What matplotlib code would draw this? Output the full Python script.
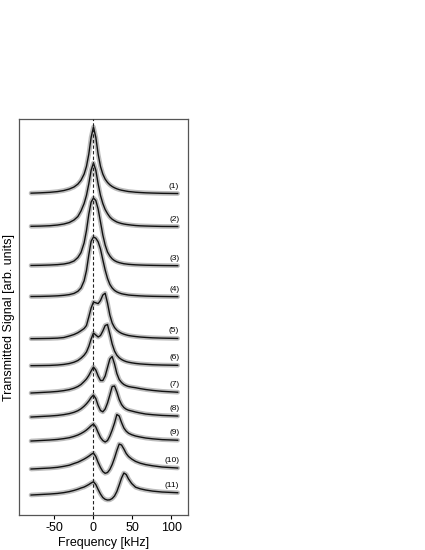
import numpy as np
import matplotlib.pyplot as plt

plt.rcParams['font.family'] = ['Liberation Sans', 'DejaVu Sans']
plt.rcParams['axes.unicode_minus'] = False

# frequency grid (kHz)
freq = [-80, -68, -56, -46, -38, -31, -25, -20, -16,
        -12, -9, -6, -3, 0, 3, 6, 9, 12, 15, 18, 21, 24, 27, 30, 33, 36, 39, 42, 45,
        49, 54, 60, 67, 76, 88, 108]

# signal above each trace's own baseline (arb. units)
trace_1 = [0.85, 1.2, 1.7, 2.45, 3.5, 5.0, 7.0, 9.9, 13.7,
           19.9, 27.6, 39.8, 56.7, 67, 56.7, 39.8, 27.6, 19.9, 14.9, 11.6, 9.2, 7.5, 6.2, 5.2, 4.4, 3.8, 3.35, 2.9, 2.5,
           2.2, 1.8, 1.5, 1.2, 0.95, 0.7, 0.5]
trace_2 = [0.7, 0.9, 1.3, 2.0, 3.0, 4.5, 7.0, 10.5, 16.0,
           23.5, 31.6, 43.1, 56.8, 64, 56.8, 43.1, 31.6, 23.5, 17.5, 13.4, 10.0, 7.8, 6.3, 5.0, 4.2, 3.5, 3.0, 2.6, 2.3,
           1.9, 1.5, 1.2, 1.0, 0.8, 0.6, 0.5]
trace_3 = [0.55, 0.7, 1.0, 1.4, 2.0, 3.1, 5.0, 8.5, 13.4,
           23.1, 35.4, 51.7, 63.9, 68, 65.5, 57, 44, 31, 21, 14, 10, 7.2, 5.4, 4.2, 3.4, 2.8, 2.3, 2.0, 1.7,
           1.45, 1.2, 1.0, 0.8, 0.65, 0.5, 0.35]
trace_4 = [0.5, 0.6, 0.85, 1.2, 1.7, 2.4, 3.6, 5.7, 9.0,
           16.2, 26.4, 42.0, 55.8, 60, 58.8, 55.2, 48.0, 37.2, 27.0, 18.6, 12.6, 9.0, 6.6, 5.1, 4.1, 3.3, 2.8, 2.4, 2.0,
           1.7, 1.45, 1.15, 0.9, 0.7, 0.55, 0.35]
trace_5 = [0.35, 0.45, 0.6, 0.9, 1.5, 3.0, 4.5, 6.3, 8.3,
           10.5, 13.5, 22, 31, 37, 36.2, 35.4, 38.5, 44, 45.8, 36, 24, 16, 11.5, 8.8, 7.0, 5.7, 4.8, 4.1, 3.5,
           3.0, 2.5, 2.0, 1.6, 1.2, 0.9, 0.6]
trace_6 = [0.35, 0.45, 0.6, 1.0, 1.6, 2.5, 3.8, 5.5, 7.8,
           10.8, 14, 19.5, 27, 33, 31, 29, 30.5, 35, 40.5, 41.5, 32, 22, 15, 10.8, 8.2, 6.5, 5.3, 4.4, 3.8,
           3.2, 2.6, 2.1, 1.7, 1.3, 1.0, 0.7]
trace_7 = [0, 0.5, 1.0, 1.6, 2.4, 3.4, 4.8, 6.5, 8.5,
           11.5, 14, 17.5, 22, 26, 23, 17, 12.5, 12.5, 17, 25.5, 34, 36.5, 29, 19.5, 13.5, 10.5, 8.5, 7.3, 6.5,
           5.9, 5.3, 4.4, 3.5, 2.6, 1.7, 0.8]
trace_8 = [0, 0.5, 1.0, 1.6, 2.4, 3.4, 4.7, 6.3, 8.2,
           10.8, 13.2, 16, 19.5, 22, 18.5, 11.5, 6.5, 5.2, 8, 14, 22, 30.5, 31, 25, 17.5, 12.5, 9.5, 7.8, 6.8,
           6.0, 5.0, 4.0, 3.0, 2.3, 1.6, 1.0]
trace_9 = [0, 0.5, 1.0, 1.6, 2.4, 3.3, 4.6, 6.0, 7.5,
           9.3, 11, 13, 15.3, 17, 14, 8.5, 3.5, 0.5, -1, 0.5, 5, 11, 18, 26.5, 25, 18.5, 13, 9.8, 7.8,
           6.3, 5.0, 4.0, 3.0, 2.2, 1.4, 0.8]
trace_10 = [0, 0.5, 1.0, 1.7, 2.7, 3.8, 5.5, 6.8, 8.3,
            9.9, 11.3, 12.8, 14.6, 16, 12.5, 6.5, 1.5, -2.5, -4.3, -3.5, -0.5, 4.5, 11, 18.5, 25, 24, 20, 15.5, 12.5,
            10, 7.6, 5.8, 4.4, 3.2, 2.0, 1.0]
trace_11 = [0, 0.5, 1.0, 1.6, 2.4, 3.4, 4.6, 5.8, 7.0,
            8.0, 9.2, 10.5, 12, 13.3, 10.5, 5.5, 1, -2.5, -4.3, -5, -4.8, -3.5, -1, 3.5, 10, 17, 22, 20.5, 16,
            11.5, 7.8, 6.2, 5.0, 3.9, 3.0, 2.3]

traces = [trace_1, trace_2, trace_3, trace_4, trace_5, trace_6,
          trace_7, trace_8, trace_9, trace_10, trace_11]
offsets = [321, 288, 249, 218, 176, 149, 122, 98, 74, 46, 20]
labels = ['(1)', '(2)', '(3)', '(4)', '(5)', '(6)', '(7)', '(8)', '(9)', '(10)', '(11)']

fig = plt.figure(figsize=(4.25, 5.5), dpi=100)
ax = fig.add_axes([0.0447, 0.0636, 0.3976, 0.72])

for off, tr, lab in zip(offsets, traces, labels):
    y = off + np.array(tr)
    # measured points (grey band) and fit (black line)
    ax.plot(freq, y, color='#bdbdbd', lw=3.4, solid_capstyle='round', zorder=2)
    ax.plot(freq, y, color='#111111', lw=1.0, zorder=3)
    ax.text(110, off + tr[-1] + 7.5, lab, ha='right', va='center', fontsize=6)

ax.axvline(0, color='#222222', lw=0.8, ls=(0, (3, 2)), zorder=4)

ax.set_xlim(-95.5, 121.2)
ax.set_ylim(0, 396)
ax.set_yticks([])
ax.set_xticks([-50, 0, 50, 100])
ax.tick_params(axis='x', direction='out', length=3, width=0.8, labelsize=9, pad=2)
for s in ax.spines.values():
    s.set_color('#555555')
    s.set_linewidth(0.9)

ax.set_xlabel('Frequency [kHz]', fontsize=9, labelpad=2)
ax.set_ylabel('Transmitted Signal [arb. units]', fontsize=9, labelpad=3)

fig.savefig('out.png', dpi=100)
